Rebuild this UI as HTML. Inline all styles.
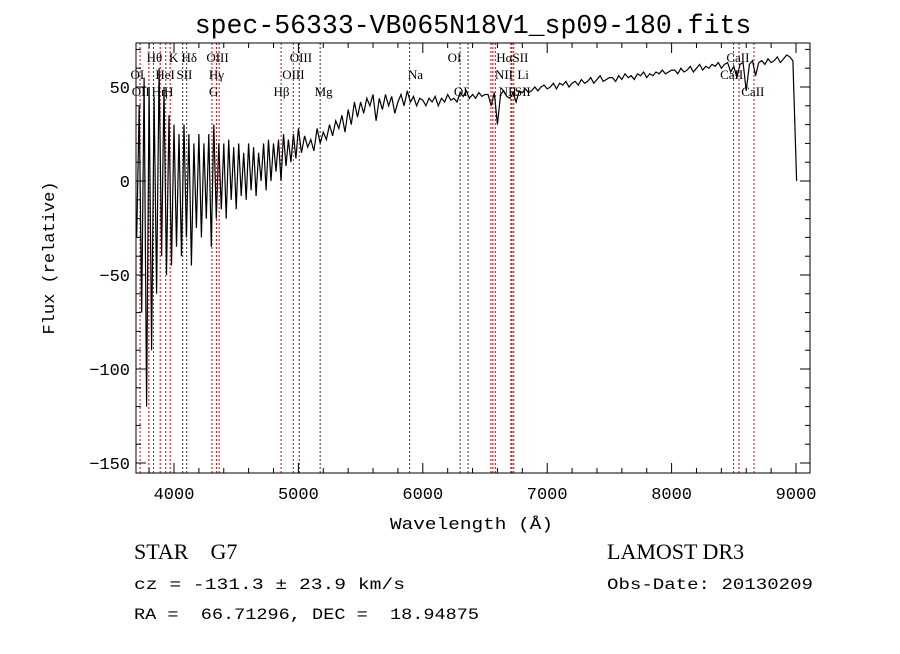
<!DOCTYPE html>
<html><head><meta charset="utf-8"><style>
body{margin:0;background:#fff}
svg text{font-family:"Liberation Mono",monospace}
.lbl{font-family:"Liberation Serif",serif;font-size:13px}
</style></head><body>
<svg id="chart" width="900" height="649" xmlns="http://www.w3.org/2000/svg">
<rect width="900" height="649" fill="#fff"/>
<text x="473" y="33" font-size="26.5" text-anchor="middle">spec-56333-VB065N18V1_sp09-180.fits</text>
<g id="lines"></g>
<g id="labels"></g>
<path id="spec" fill="none" stroke="#000" stroke-width="1.2"/>
<rect x="136" y="43" width="674" height="430" fill="none" stroke="#000" stroke-width="1"/>
<g id="ticks"></g>
<text x="390" y="529" font-size="17" textLength="163" lengthAdjust="spacingAndGlyphs">Wavelength (Å)</text>
<text transform="translate(54,258) rotate(-90)" font-size="17" text-anchor="middle">Flux (relative)</text>
<text x="134" y="559" font-size="22" style="font-family:'Liberation Serif',serif" xml:space="preserve">STAR    G7</text>
<text x="607" y="559" font-size="22" style="font-family:'Liberation Serif',serif">LAMOST DR3</text>
<text x="134" y="589" font-size="16" textLength="271" lengthAdjust="spacingAndGlyphs">cz = -131.3 ± 23.9 km/s</text>
<text x="607" y="589" font-size="16" textLength="206" lengthAdjust="spacingAndGlyphs">Obs-Date: 20130209</text>
<text x="134" y="619" font-size="16" xml:space="preserve" textLength="345" lengthAdjust="spacingAndGlyphs">RA =  66.71296, DEC =  18.94875</text>
</svg>
<script>
const blueWaves=[3700,3720,3740,3760,3780,3800,3820,3840,3860,3880,3900,3920,3940,3960,3980,4000,4020,4040,4060,4080,4100,4120,4140,4160,4180,4200,4220,4240,4260,4280,4300,4320,4340,4360,4380,4400,4420,4440,4460,4480,4500,4520,4540,4560,4580,4600,4620,4640,4660,4680,4700,4720,4740,4760,4780,4800,4820,4840,4860,4880,4900,4920,4940,4960,4980];
const blueFlux=[-30,40,-70,55,-120,50,-90,45,-60,60,-40,50,-50,35,-45,30,-35,25,-40,30,-30,25,-45,20,-25,25,-30,20,-20,25,-35,30,-20,20,-15,20,-20,22,-10,18,-15,20,-8,15,-10,20,-5,18,-8,15,0,20,-5,22,0,20,5,22,0,25,8,22,10,25,12];
const redStart=[5000];
const redStep=[25];
const redFlux=[28,15,24,18,22,16,28,20,26,22,30,24,32,28,35,26,38,30,42,34,42,
36,44,40,46,32,44,38,46,40,45,36,42,46,40,48,42,45,40,44,43,
40,44,42,45,40,44,42,46,43,44,42,47,45,48,44,46,44,47,45,46,
46,40,47,30,46,48,45,44,47,42,48,47,49,47,48,50,48,50,51,49,
50,52,49,52,51,53,50,52,53,51,54,52,53,55,52,54,56,53,54,55,
55,53,56,54,57,55,56,54,57,56,58,55,57,56,58,57,59,57,58,59,
59,57,60,58,59,61,58,60,62,59,61,60,62,61,63,60,62,63,58,61,
55,62,63,48,62,64,56,63,64,62,65,63,64,66,63,65,67,66,64];
const endWaves=[9005];
const endFlux=[0];
const lineWaves=[3727,3798,3835,3889,3934,3969,4070,4102,4305,4341,4363,4861,4959,5007,5175,5894,6300,6364,6548,6563,6583,6708,6717,6731,8498,8542,8662];
const lineBlack=[0,0,0,0,0,0,1,1,0,0,0,0,0,0,1,1,1,1,0,0,0,0,0,0,0,0,0];
const labelText=["Hθ","K","Hδ","OIII","OIII","OI","HαSII","CaII","OI","HeI","SII","Hγ","OIII","Na","NII","Li","CaII","OII","Hη","H","G","Hβ","Mg","OI","NII","SII","CaII"];
const labelWave=[3780,3960,4060,4260,4930,6200,6590,8440,3650,3850,4020,4280,4870,5880,6580,6760,8390,3660,3820,3920,4280,4800,5130,6250,6610,6740,8560];
const labelRow=[0,0,0,0,0,0,0,0,1,1,1,1,1,1,1,1,1,2,2,2,2,2,2,2,2,2,2];
const xTicks=[4000,5000,6000,7000,8000,9000];
const yTicks=[50,0,-50,-100,-150];
const X=w=>174+(w-4000)*0.1244;
const Y=f=>181-f*1.88;
const ns="http://www.w3.org/2000/svg";
function mk(t,a,p){const e=document.createElementNS(ns,t);for(const k in a)e.setAttribute(k,a[k]);p.appendChild(e);return e;}
const pts=[];
blueWaves.forEach((w,i)=>pts.push([w,blueFlux[i]]));
redFlux.forEach((f,i)=>pts.push([redStart[0]+redStep[0]*i,f]));
endWaves.forEach((w,i)=>pts.push([w,endFlux[i]]));
let d="";pts.forEach((p,i)=>{d+=(i?"L":"M")+X(p[0]).toFixed(1)+","+Y(p[1]).toFixed(1);});
document.getElementById("spec").setAttribute("d",d);
const gl=document.getElementById("lines");
lineWaves.forEach((w,i)=>{const l=mk("line",{x1:X(w),x2:X(w),y1:43,y2:473,stroke:lineBlack[i]?"#333":"#c00","stroke-width":1,"stroke-dasharray":"2,2"},gl);

});
const gb=document.getElementById("labels");
labelText.forEach((t,i)=>{const e=mk("text",{x:X(labelWave[i]),y:62+labelRow[i]*17,class:"lbl"},gb);e.textContent=t;

});
const gt=document.getElementById("ticks");
for(let w=3800;w<=9100;w+=200){const maj=w%1000===0,L=maj?10:5;
mk("line",{x1:X(w),x2:X(w),y1:473,y2:473-L,stroke:"#000"},gt);mk("line",{x1:X(w),x2:X(w),y1:43,y2:43+L,stroke:"#000"},gt);}
for(let f=-150;f<=70;f+=10){const maj=f%50===0,L=maj?10:5;
mk("line",{x1:136,x2:136+L,y1:Y(f),y2:Y(f),stroke:"#000"},gt);mk("line",{x1:810,x2:810-L,y1:Y(f),y2:Y(f),stroke:"#000"},gt);}
xTicks.forEach(w=>{const e=mk("text",{x:X(w),y:499,"font-size":17,"text-anchor":"middle"},gt);e.textContent=w;

});
yTicks.forEach(f=>{const e=mk("text",{x:130,y:Y(f)+6,"font-size":17,"text-anchor":"end"},gt);e.textContent=f<0?"\u2212"+(-f):f;

});
</script>
</body></html>
